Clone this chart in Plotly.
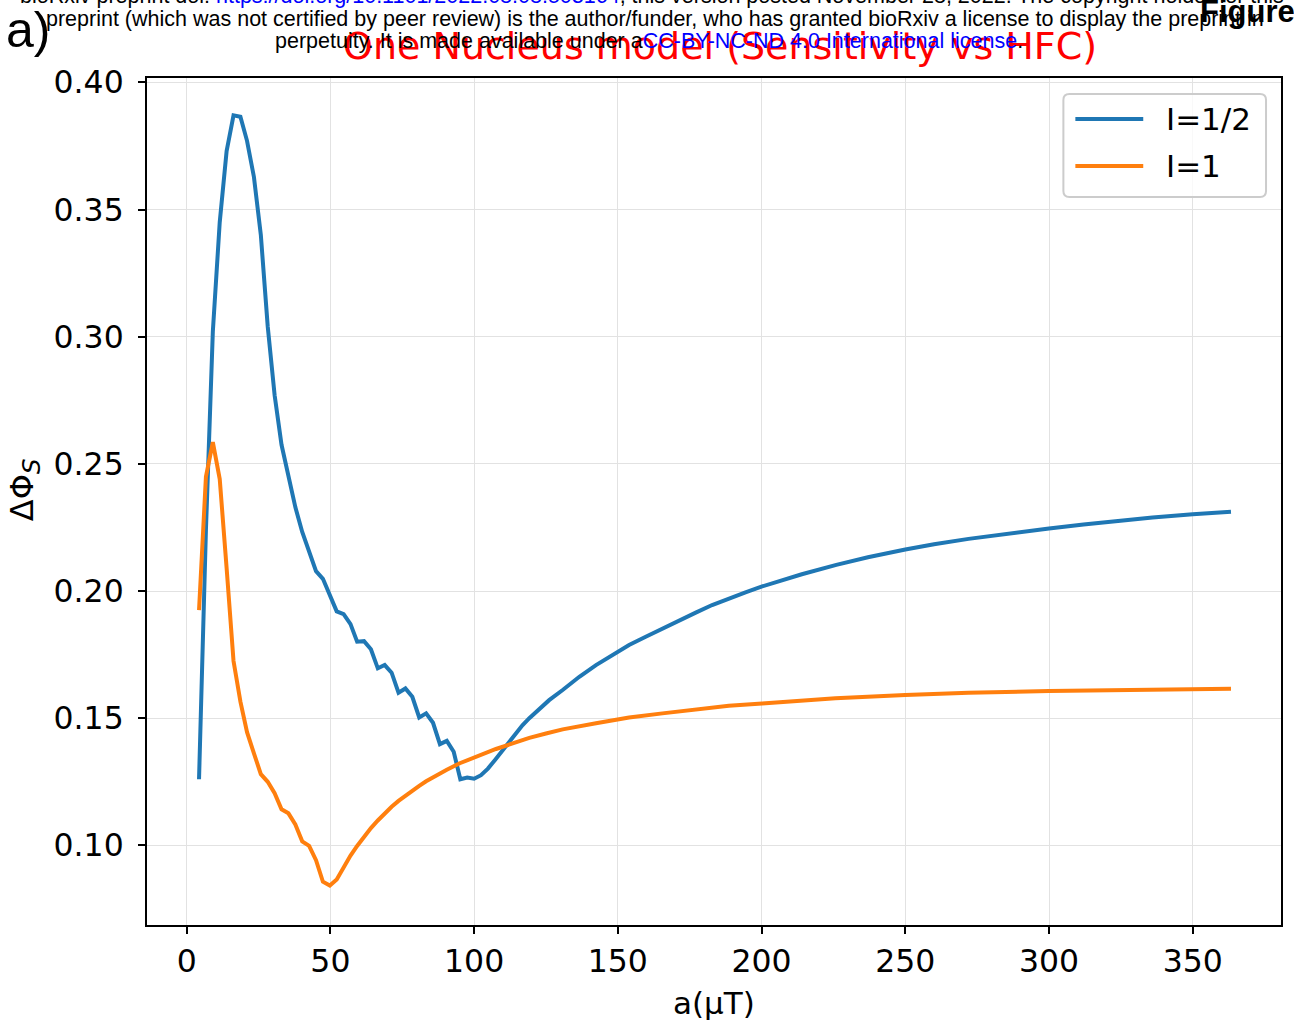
import plotly.graph_objects as go

# ---- data: sensitivity vs hyperfine coupling ----
a_half = [4.3, 6.7, 9.1, 11.5, 13.9, 16.3, 18.7, 21.0, 23.4, 25.8, 28.2, 30.6, 33.0, 35.4,
          37.8, 40.2, 42.6, 45.0, 47.4, 49.8, 52.2, 54.6, 57.0, 59.3, 61.7, 64.1, 66.5, 68.9,
          71.3, 73.7, 76.1, 78.5, 80.9, 83.3, 85.7, 88.1, 90.5, 92.9, 95.2, 97.6, 100.0, 102.4,
          104.8, 107.2, 109.6, 112.0, 114.4, 116.8, 119.2, 121.6, 124.0, 126.1, 130.8, 136.6,
          142.4, 148.1, 153.9, 159.7, 165.5, 171.3, 177.1, 182.8, 188.6, 194.4, 200.2, 214.0,
          226.0, 237.0, 250.0, 260.0, 272.0, 284.0, 300.0, 312.0, 324.0, 336.0, 350.0, 363.3]
dphi_half = [0.126, 0.224, 0.302, 0.345, 0.373, 0.387, 0.3865, 0.377, 0.3628, 0.340, 0.304,
             0.277, 0.2575, 0.2445, 0.233, 0.2232, 0.2150, 0.2078, 0.2048, 0.1988, 0.1920,
             0.1909, 0.1870, 0.1801, 0.1803, 0.1771, 0.1696, 0.1709, 0.1679, 0.1600, 0.1617,
             0.1584, 0.1503, 0.1519, 0.1482, 0.1398, 0.1411, 0.1368, 0.1260, 0.1267, 0.1262,
             0.1276, 0.1302, 0.1335, 0.1370, 0.1402, 0.1440, 0.1472, 0.1500, 0.1525, 0.1550,
             0.1571, 0.1611, 0.1663, 0.1709, 0.1748, 0.1788, 0.1820, 0.1853, 0.1886, 0.1915,
             0.1945, 0.1971, 0.1995, 0.2018, 0.2066, 0.2103, 0.2133, 0.2163, 0.2184, 0.2205,
             0.2224, 0.2246, 0.2262, 0.2276, 0.2289, 0.2302, 0.2312]

a_one = [4.3, 6.7, 9.1, 11.5, 13.9, 16.3, 18.7, 21.0, 23.4, 25.8, 28.2, 30.6, 33.0, 35.4,
         37.8, 40.2, 42.6, 45.0, 47.4, 49.8, 52.2, 54.6, 57.0, 59.3, 61.7, 64.1, 66.5, 68.9,
         71.3, 73.7, 76.1, 78.5, 80.9, 83.3, 85.7, 88.1, 90.5, 95.0, 101.8, 107.6, 113.4,
         119.2, 125.0, 130.8, 142.4, 153.9, 165.5, 177.1, 188.6, 200.2, 209.5, 225.7, 250.0,
         272.0, 300.0, 324.0, 350.0, 363.3]
dphi_one = [0.1925, 0.2449, 0.2585, 0.2440, 0.2090, 0.1725, 0.1565, 0.1445, 0.1362, 0.1280,
            0.1250, 0.1205, 0.1142, 0.1126, 0.1082, 0.1016, 0.0998, 0.0942, 0.0857, 0.0842,
            0.0866, 0.0915, 0.0960, 0.0998, 0.1035, 0.1068, 0.1098, 0.1126, 0.1152, 0.1175,
            0.1196, 0.1216, 0.1234, 0.1252, 0.1268, 0.1283, 0.1297, 0.1323, 0.1355, 0.1379,
            0.1401, 0.1423, 0.1440, 0.1456, 0.1480, 0.1503, 0.1519, 0.1536, 0.1549, 0.1558,
            0.1565, 0.1578, 0.1591, 0.1600, 0.1607, 0.1611, 0.1615, 0.1616]

series_names = ["I=1/2", "I=1"]
series_colors = ["#1f77b4", "#ff7f0e"]
x_ticks = [0, 50, 100, 150, 200, 250, 300, 350]
y_ticks = [0.10, 0.15, 0.20, 0.25, 0.30, 0.35, 0.40]

title_text = "One Nucleus model (Sensitivity vs HFC)"
x_title = "a(μT)"
y_title = "ΔΦ<sub><span style='font-size:25px'><i>S</i></span></sub>"

# ---- page geometry (pixels) ----
W, H = 1294, 1025
L, R, T, B = 147, 11, 78, 100
PW, PH = W - L - R, H - T - B


def px(x):
    return (x - L) / PW


def py(y):
    return (H - B - y) / PH


fig = go.Figure()
for xs, ys, name, col in zip([a_half, a_one], [dphi_half, dphi_one], series_names, series_colors):
    fig.add_trace(go.Scatter(x=xs, y=ys, mode="lines", name=name,
                             line=dict(color=col, width=4), showlegend=False))

axis_common = dict(
    showline=True, linecolor="black", linewidth=2, mirror=True,
    ticks="outside", ticklen=7, tickwidth=2, tickcolor="black",
    showgrid=True, gridcolor="#e2e2e2", gridwidth=1, zeroline=False,
    tickfont=dict(family="DejaVu Sans", size=31.5, color="black"),
)
fig.update_xaxes(range=[-13.8, 380.7], tickvals=x_ticks, **axis_common)
fig.update_yaxes(range=[0.0687, 0.4017], tickvals=y_ticks, tickformat=".2f",
                 ticklabelstandoff=8, **axis_common)

ann = []
# axis titles and plot title
ann.append(dict(text=title_text, x=px(721), y=py(46), xref="paper", yref="paper",
                xanchor="center", yanchor="middle", showarrow=False,
                font=dict(family="DejaVu Sans", size=38, color="red")))
ann.append(dict(text=x_title, x=px(715), y=py(1003), xref="paper", yref="paper",
                xanchor="center", yanchor="middle", showarrow=False,
                font=dict(family="DejaVu Sans", size=31, color="black")))
ann.append(dict(text=y_title, x=px(25), y=py(490), xref="paper", yref="paper",
                xanchor="center", yanchor="middle", showarrow=False, textangle=-90,
                font=dict(family="DejaVu Sans", size=32, color="black")))

# preprint header lines
hdr_font = dict(family="Liberation Sans", size=21.5, color="black")
blue = "color:#0000ff"
ann.append(dict(text="bioRxiv preprint doi: <span style='%s'>https://doi.org/10.1101/2022.08.08.503164</span>, "
                     "this version posted November 28, 2022. The copyright holder for this" % blue,
                x=px(18), y=py(-4), xref="paper", yref="paper", xanchor="left", yanchor="middle",
                showarrow=False, font=hdr_font))
ann.append(dict(text="preprint (which was not certified by peer review) is the author/funder, who has granted "
                     "bioRxiv a license to display the preprint in",
                x=px(44), y=py(19), xref="paper", yref="paper", xanchor="left", yanchor="middle",
                showarrow=False, font=hdr_font))
ann.append(dict(text="perpetuity. It is made available under a<span style='%s'>CC-BY-NC-ND 4.0 International license</span>." % blue,
                x=px(273), y=py(41), xref="paper", yref="paper", xanchor="left", yanchor="middle",
                showarrow=False, font=hdr_font))
ann.append(dict(text="a)", x=px(4), y=py(30), xref="paper", yref="paper", xanchor="left",
                yanchor="middle", showarrow=False,
                font=dict(family="Liberation Sans", size=50, color="black")))
ann.append(dict(text="<b>Figure</b>", x=px(1200), y=py(12), xref="paper", yref="paper",
                xanchor="left", yanchor="middle", showarrow=False,
                font=dict(family="Liberation Sans", size=31, color="black")))


# legend box with rounded corners
def rounded_rect(x0, y0, x1, y1, r):
    X = lambda v: px(v)
    Y = lambda v: py(v)
    return (f"M {X(x0 + r)},{Y(y0)} L {X(x1 - r)},{Y(y0)} Q {X(x1)},{Y(y0)} {X(x1)},{Y(y0 + r)} "
            f"L {X(x1)},{Y(y1 - r)} Q {X(x1)},{Y(y1)} {X(x1 - r)},{Y(y1)} "
            f"L {X(x0 + r)},{Y(y1)} Q {X(x0)},{Y(y1)} {X(x0)},{Y(y1 - r)} "
            f"L {X(x0)},{Y(y0 + r)} Q {X(x0)},{Y(y0)} {X(x0 + r)},{Y(y0)} Z")


shapes = [dict(type="path", xref="paper", yref="paper", path=rounded_rect(1065, 94, 1268, 197, 6),
               line=dict(color="#cccccc", width=2), fillcolor="rgba(255,255,255,0.8)", layer="above")]
for i, (name, col) in enumerate(zip(series_names, series_colors)):
    yy = 119 + 47 * i
    shapes.append(dict(type="line", xref="paper", yref="paper", x0=px(1077), x1=px(1145),
                       y0=py(yy), y1=py(yy), line=dict(color=col, width=4), layer="above"))
    ann.append(dict(text=name, x=px(1166), y=py(yy), xref="paper", yref="paper",
                    xanchor="left", yanchor="middle", showarrow=False,
                    font=dict(family="DejaVu Sans", size=31, color="black")))

fig.update_layout(
    width=W, height=H, margin=dict(l=L, r=R, t=T, b=B),
    paper_bgcolor="white", plot_bgcolor="white",
    annotations=ann, shapes=shapes, showlegend=False,
)

fig.write_html("out.html")
